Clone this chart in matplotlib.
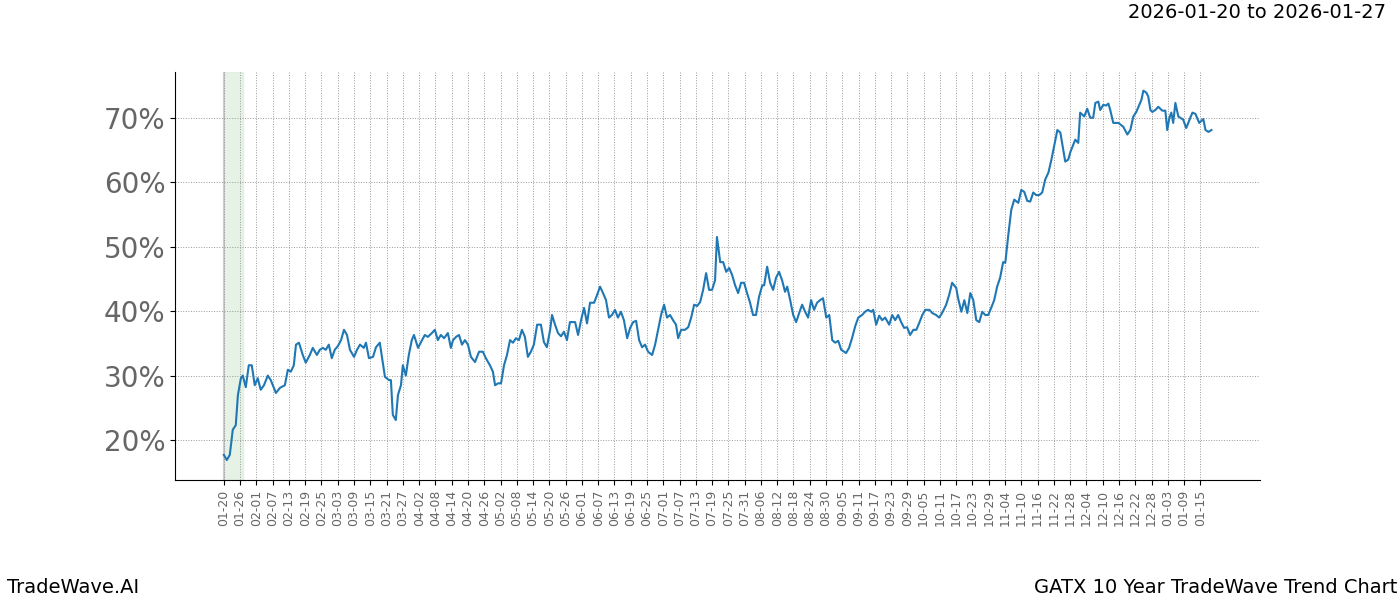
import matplotlib
matplotlib.use("Agg")
import matplotlib.pyplot as plt
import matplotlib.dates as mdates
import pandas as pd
from matplotlib.ticker import FuncFormatter

start_date = "2025-01-20"
day_offsets = [0,1.1,2.2,3.3,4.4,5.2,6.3,7.0,8.1,9.2,10.3,11.4,12.5,13.6,14.8,16.2,17.3,19.2,20.7,22.5,23.6,24.7,25.8,26.6,27.7,29.1,30.2,31.7,32.8,34.3,35.4,36.5,37.6,38.7,39.8,40.9,42.1,43.2,44.3,45.4,46.5,48.0,49.1,50.2,51.6,52.4,53.5,55.0,56.1,57.5,59.4,60.9,61.6,62.3,63.4,64.2,65.3,66.0,67.1,68.2,69.3,70.1,71.6,72.7,74.1,75.2,76.7,77.8,78.9,80.0,81.2,82.6,83.7,84.5,85.6,86.7,87.8,88.9,90.0,91.1,92.6,94.1,95.5,96.6,98.1,99.2,100.0,101.1,102.2,103.3,104.4,105.5,106.6,107.7,108.8,109.9,111.0,112.1,113.2,114.3,115.5,116.9,118.0,119.1,120.3,121.0,122.1,123.2,124.3,125.4,126.5,127.6,129.5,130.6,131.7,132.8,133.9,135.0,136.5,137.6,138.7,139.8,140.9,142.0,143.1,144.2,145.3,146.4,147.5,148.7,149.8,150.9,152.0,153.1,154.2,155.3,156.4,157.9,159.0,160.1,161.2,162.3,163.4,164.5,165.6,166.7,167.5,168.6,170.0,171.2,172.3,173.4,174.5,175.6,176.7,177.8,178.9,180.0,181.1,181.8,183.0,184.1,185.2,186.3,187.4,188.5,189.6,190.7,191.8,192.9,194.0,195.1,196.2,197.3,198.5,199.2,200.3,201.4,202.5,203.6,204.7,205.8,206.9,207.7,208.8,209.9,211.0,212.1,213.2,214.3,215.4,216.5,217.6,218.7,219.8,220.9,222.1,223.2,224.3,225.4,226.5,227.6,229.4,230.5,231.6,232.8,233.9,235.3,236.4,237.5,238.7,239.4,240.5,241.6,242.7,243.8,245.3,246.4,247.5,248.6,249.7,250.8,251.9,253.0,254.2,255.3,256.4,257.5,258.6,260.1,261.2,262.6,263.7,264.8,266.3,267.4,268.5,270.0,270.7,271.9,273.0,274.1,275.2,276.3,277.4,278.5,279.6,280.7,281.8,282.9,284.0,285.1,286.2,287.3,288.1,289.2,290.3,291.4,292.9,294.0,295.1,296.2,297.3,298.4,299.5,300.6,301.7,302.8,304.0,305.1,306.2,307.3,308.4,310.2,311.3,312.1,313.9,315.0,315.7,317.2,318.3,319.4,320.5,321.3,322.4,323.1,324.2,325.3,326.1,326.8,327.9,329.8,331.6,333.1,334.2,335.3,336.4,337.2,338.3,339.0,340.1,340.8,341.6,342.3,343.4,344.5,346.0,347.1,347.8,348.6,349.3,350.0,350.8,351.9,353.7,354.8,356.3,357.1,358.2,359.6,361.1,361.9,363.0,364.1]
values = [17.7,16.9,17.7,21.6,22.3,27.0,29.6,30.0,28.2,31.6,31.6,28.5,29.6,27.8,28.5,30.0,29.3,27.3,28.1,28.5,30.9,30.6,31.6,34.8,35.1,33.2,32.0,33.2,34.3,33.2,34.0,34.3,34.0,34.8,32.7,34.0,34.6,35.5,37.1,36.3,34.0,32.9,34.0,34.8,34.3,35.1,32.7,32.9,34.4,35.1,29.8,29.3,29.3,23.9,23.1,27.0,28.5,31.6,30.0,33.2,35.5,36.3,34.3,35.2,36.3,36.0,36.6,37.1,35.5,36.3,35.8,36.6,34.3,35.5,36.0,36.3,34.8,35.5,34.8,32.9,32.1,33.7,33.7,32.7,31.6,30.6,28.5,28.8,28.8,31.6,33.2,35.5,35.1,35.8,35.5,37.1,36.0,32.9,33.7,34.8,37.9,37.9,35.2,34.4,37.1,39.4,37.9,36.6,36.1,36.8,35.5,38.3,38.3,36.3,38.6,40.5,38.1,41.3,41.3,42.5,43.8,42.8,41.7,39.0,39.4,40.2,39.0,39.9,38.6,35.8,37.4,38.3,38.5,35.5,34.4,34.8,33.7,33.2,34.8,37.1,39.4,41.0,39.0,39.4,38.6,37.9,35.8,37.1,37.1,37.5,39.0,41.0,40.8,41.4,43.3,45.9,43.3,43.3,44.8,51.5,47.6,47.6,46.1,46.7,45.6,44.0,42.8,44.4,44.4,42.8,41.3,39.4,39.4,42.2,44.0,44.0,46.9,44.4,43.3,45.2,46.1,44.8,43.0,43.8,41.7,39.4,38.3,39.7,41.0,39.9,39.0,41.7,40.2,41.3,41.7,42.0,39.0,39.4,35.5,35.1,35.4,34.0,33.5,34.3,35.8,37.7,39.0,39.4,39.9,40.2,39.9,40.2,37.9,39.3,38.6,39.0,37.9,39.4,38.6,39.4,38.3,37.4,37.5,36.3,37.1,37.1,38.2,39.4,40.2,40.2,39.7,39.4,39.0,39.7,41.0,42.5,44.4,43.6,42.0,39.9,41.7,39.7,42.8,41.7,38.6,38.3,39.9,39.4,39.4,40.5,41.7,43.8,45.2,47.6,47.5,51.8,55.7,57.3,56.8,58.8,58.5,57.1,57.0,58.4,58.0,58.0,58.4,60.4,61.5,63.5,65.8,68.1,67.7,63.2,63.5,64.7,66.6,66.1,70.8,70.2,71.4,70.0,70.0,72.3,72.5,71.2,72.0,71.9,72.2,71.2,69.2,69.2,68.6,67.4,68.1,70.2,70.9,71.7,72.8,74.2,73.9,73.3,71.2,70.9,71.2,71.7,71.1,71.1,68.1,70.0,70.8,69.2,72.3,70.2,69.7,68.4,70.0,70.8,70.6,69.2,69.8,68.1,67.8,68.1]
shade_start = "2025-01-20"
shade_end = "2025-01-27"
title_right = "2026-01-20 to 2026-01-27"

t0 = pd.Timestamp(start_date)
dates = [t0 + pd.Timedelta(days=d) for d in day_offsets]

fig = plt.figure(figsize=(14, 6), dpi=100)
ax = fig.add_axes([0.125, 0.2, 0.775, 0.68])
ax.axvspan(pd.Timestamp(shade_start), pd.Timestamp(shade_end), color="#d8ecd8", alpha=0.65, zorder=0)
ax.axvline(pd.Timestamp(shade_start), color="#cccccc", lw=1.5, zorder=0.5)
ax.plot(dates, values, color="#1f77b4", lw=1.5, zorder=3)

ticks = pd.date_range(start_date, "2026-01-17", freq="6D")
ax.set_xticks(ticks)
ax.xaxis.set_major_formatter(mdates.DateFormatter("%m-%d"))
plt.setp(ax.get_xticklabels(), rotation=90, fontsize=9, color="#666666")
ax.set_xlim(t0 - pd.Timedelta(days=18), t0 + pd.Timedelta(days=382))
ax.set_ylim(13.8, 77.1)
ax.set_yticks([20, 30, 40, 50, 60, 70])
ax.yaxis.set_major_formatter(FuncFormatter(lambda v, p: f"{v:.0f}%"))
ax.tick_params(axis="y", labelsize=20, labelcolor="#666666")
ax.grid(True, color="#999999", ls=":", lw=0.7)
ax.spines["top"].set_visible(False)
ax.spines["right"].set_visible(False)

fig.text(0.99, 0.98, title_right, ha="right", va="center", fontsize=14)
fig.text(0.005, 0.005, "TradeWave.AI", ha="left", va="bottom", fontsize=14)
fig.text(0.998, 0.005, "GATX 10 Year TradeWave Trend Chart", ha="right", va="bottom", fontsize=14)
fig.savefig("out.png", dpi=100)
